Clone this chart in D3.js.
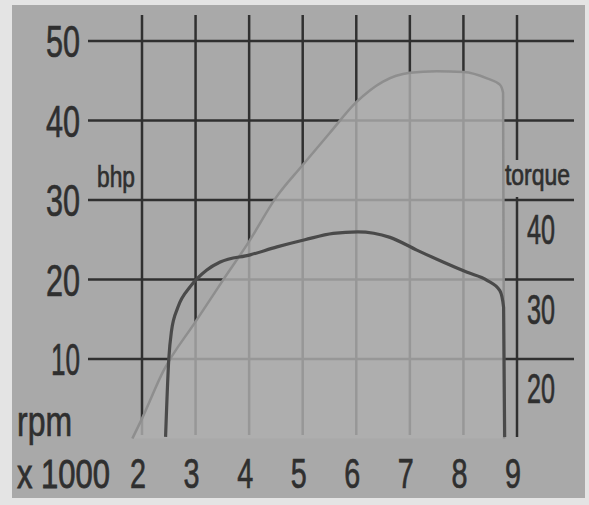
<!DOCTYPE html>
<html>
<head>
<meta charset="utf-8">
<script src="https://cdn.jsdelivr.net/npm/d3@7"></script>
<style>
  body { margin: 0; background: #e4e4e4; }
  text { font-family: "Liberation Sans Narrow", "Liberation Sans", Arial, sans-serif; fill: #2f2f2f; stroke: #2f2f2f; stroke-width: 0.7px; }
</style>
</head>
<body>
<div id="chart"></div>
<script>
// rpm ticks (x 1000) and axis ticks
const rpmTicks = [2, 3, 4, 5, 6, 7, 8, 9];
const bhpTicks = [10, 20, 30, 40, 50];
const torqueTicks = [20, 30, 40];

// power curve (bhp)
const bhpRpm = [1.82, 2.0, 2.4, 3.0, 3.5, 4.0, 4.5, 5.0, 5.5, 6.0, 6.5, 7.0, 7.5, 8.0, 8.44, 8.68, 8.74, 8.76];
const bhpVal = [0, 2.5, 8.5, 14.7, 19.8, 24.8, 30.3, 34.4, 38.4, 42.3, 44.9, 46.0, 46.2, 46.1, 45.3, 44.5, 43.5, 0];

// torque curve
const tqRpm = [2.44, 2.5, 2.55, 2.67, 2.9, 3.21, 3.46, 4.02, 4.52, 5.04, 5.57, 6.03, 6.63, 7.13, 7.62, 8.07, 8.44, 8.68, 8.75, 8.77];
const tqVal = [10.2, 20, 23.5, 26.5, 29.1, 31.2, 32.2, 33.1, 34.1, 35.0, 35.8, 36.0, 35.3, 33.7, 32.2, 30.9, 29.9, 28.6, 26.5, 10.2];

const width = 589, height = 505;
const svg = d3.select("#chart").append("svg")
    .attr("width", width)
    .attr("height", height);

// grey card
svg.append("rect")
    .attr("x", 12).attr("y", 5)
    .attr("width", 573).attr("height", 493)
    .attr("fill", "#a9a9a9");

const x = d3.scaleLinear().domain([2, 9]).range([142, 517]);
const y = d3.scaleLinear().domain([0, 50]).range([438.5, 41]);
const yT = d3.scaleLinear().domain([10, 60]).range([438.5, 41]);

const gridTop = 15, gridBottom = 435;
const lineCol = "#303030";

// horizontal grid
svg.selectAll("line.h")
    .data(bhpTicks)
    .enter().append("line")
    .attr("x1", 88).attr("x2", 574)
    .attr("y1", d => y(d)).attr("y2", d => y(d))
    .attr("stroke", lineCol).attr("stroke-width", 2.5);

// vertical grid (2..8)
svg.selectAll("line.v")
    .data(rpmTicks.slice(0, -1))
    .enter().append("line")
    .attr("x1", d => x(d)).attr("x2", d => x(d))
    .attr("y1", gridTop).attr("y2", gridBottom)
    .attr("stroke", lineCol).attr("stroke-width", 2.5);

// right torque axis line at 9, broken for the label
svg.append("line")
    .attr("x1", x(9)).attr("x2", x(9)).attr("y1", gridTop).attr("y2", 160)
    .attr("stroke", lineCol).attr("stroke-width", 2.5);
svg.append("line")
    .attr("x1", x(9)).attr("x2", x(9)).attr("y1", 197).attr("y2", 437)
    .attr("stroke", lineCol).attr("stroke-width", 2.5);

// power area
const bhpData = bhpRpm.map((r, i) => ({ r: r, v: bhpVal[i] }));
const area = d3.area()
    .x(d => x(d.r))
    .y0(y(0))
    .y1(d => y(d.v))
    .curve(d3.curveMonotoneX);
const line = d3.line()
    .x(d => x(d.r))
    .y(d => y(d.v))
    .curve(d3.curveMonotoneX);

svg.append("path")
    .datum(bhpData)
    .attr("d", area)
    .attr("fill", "#afafaf")
    .attr("fill-opacity", 0.82);
svg.append("path")
    .datum(bhpData)
    .attr("d", line)
    .attr("fill", "none")
    .attr("stroke", "#8e8e8e")
    .attr("stroke-width", 2.5);

// torque line
const tqData = tqRpm.map((r, i) => ({ r: r, v: tqVal[i] }));
svg.append("path")
    .datum(tqData)
    .attr("d", d3.line().x(d => x(d.r)).y(d => yT(d.v)).curve(d3.curveMonotoneX))
    .attr("fill", "none")
    .attr("stroke", "#4a4a4a")
    .attr("stroke-width", 3.2);

// left labels
svg.selectAll("text.bhp")
    .data(bhpTicks)
    .enter().append("text")
    .attr("x", 80)
    .attr("y", d => y(d) + 16)
    .attr("text-anchor", "end")
    .attr("font-size", 44)
    .attr("textLength", d => d === 10 ? 29 : 34)
    .attr("lengthAdjust", "spacingAndGlyphs")
    .text(d => d);

// right torque labels
svg.selectAll("text.tq")
    .data(torqueTicks)
    .enter().append("text")
    .attr("x", 541)
    .attr("y", d => yT(d) + 44)
    .attr("text-anchor", "middle")
    .attr("font-size", 42)
    .attr("textLength", 28)
    .attr("lengthAdjust", "spacingAndGlyphs")
    .text(d => d);

// rpm labels
svg.selectAll("text.rpm")
    .data(rpmTicks)
    .enter().append("text")
    .attr("x", d => x(d) - 4)
    .attr("y", 488)
    .attr("text-anchor", "middle")
    .attr("font-size", 43)
    .attr("textLength", 16)
    .attr("lengthAdjust", "spacingAndGlyphs")
    .text(d => d);

// smaller font stretched up so its box stays clear of the "2"
svg.append("text")
    .attr("transform", "translate(17,488) scale(1,1.17)")
    .attr("font-size", 35)
    .attr("textLength", 93)
    .attr("lengthAdjust", "spacingAndGlyphs")
    .text("x 1000");

svg.append("text")
    .attr("x", 17).attr("y", 436)
    .attr("font-size", 42)
    .attr("textLength", 55)
    .attr("lengthAdjust", "spacingAndGlyphs")
    .text("rpm");

svg.append("text")
    .attr("x", 97).attr("y", 187)
    .attr("font-size", 30)
    .attr("textLength", 38)
    .attr("lengthAdjust", "spacingAndGlyphs")
    .text("bhp");

svg.append("text")
    .attr("x", 505).attr("y", 185)
    .attr("font-size", 29)
    .attr("textLength", 65)
    .attr("lengthAdjust", "spacingAndGlyphs")
    .text("torque");
</script>
</body>
</html>
